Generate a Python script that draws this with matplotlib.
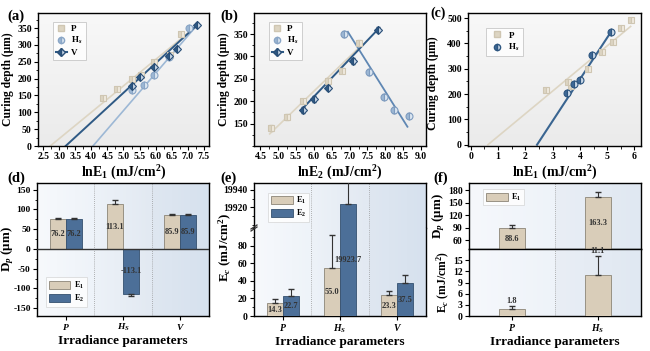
import numpy as np
import matplotlib
matplotlib.use("Agg")
import matplotlib.pyplot as plt
from matplotlib.ticker import MultipleLocator, AutoMinorLocator
from matplotlib.colors import LinearSegmentedColormap
from matplotlib.patches import Patch
from matplotlib.lines import Line2D

plt.rcParams['font.family'] = ['Liberation Serif', 'DejaVu Serif']
plt.rcParams['font.weight'] = 'bold'
plt.rcParams['axes.labelweight'] = 'bold'
plt.rcParams['mathtext.fontset'] = 'custom'
plt.rcParams['mathtext.rm'] = 'Liberation Serif:bold'
plt.rcParams['mathtext.bf'] = 'Liberation Serif:bold'
plt.rcParams['mathtext.it'] = 'Liberation Serif:italic:bold'
plt.rcParams['axes.linewidth'] = 1.0
plt.rcParams['axes.unicode_minus'] = False

# ---------------- data ----------------
# (a) curing depth vs lnE1
a_P_x = [4.35, 4.8, 5.25, 5.55, 5.95, 6.45, 6.8]
a_P_y = [142, 168, 200, 212, 248, 270, 332]
a_H_x = [5.25, 5.65, 5.95, 6.4, 7.05]
a_H_y = [167, 180, 210, 265, 350]
a_V_x = [5.25, 5.52, 5.95, 6.4, 6.65, 7.3]
a_V_y = [178, 205, 236, 268, 288, 360]
a_fit = {'P': (78.3, 2.72, 7.0), 'H': (110.8, 4.05, 7.3), 'V': (87.8, 3.2, 7.3)}  # slope, x-intercept, x-end

# (b) curing depth vs lnE2
b_P_x = [4.8, 5.25, 5.7, 6.4, 6.8, 7.25]
b_P_y = [140, 165, 200, 245, 268, 330]
b_H_x = [6.85, 7.55, 7.95, 8.25, 8.65]
b_H_y = [350, 265, 210, 180, 168]
b_V_x = [5.7, 6.0, 6.4, 7.1, 7.8]
b_V_y = [180, 205, 230, 290, 360]
b_lines = {'P': ((4.76, 127), (7.2, 315)), 'H': ((6.95, 355), (8.62, 143)), 'V': ((5.65, 181), (7.8, 361))}

# (c) curing depth vs lnE1
c_P_x = [2.76, 3.57, 3.67, 4.31, 4.8, 5.22, 5.52, 5.86]
c_P_y = [216, 249, 232, 298, 368, 407, 460, 491]
c_H_x = [3.51, 3.77, 4.01, 4.45, 5.13]
c_H_y = [205, 238, 255, 354, 444]
c_fit = {'P': (89.3, 0.63, 5.86), 'H': (164.4, 2.43, 5.13)}

# bar panels
cats3 = ['$\\mathit{P}$', '$\\mathit{H}_\\mathit{S}$', '$\\mathit{V}$']
cats2 = ['$\\mathit{P}$', '$\\mathit{H}_\\mathit{S}$']
d_E1 = [76.2, 113.1, 85.9]
d_E2 = [76.2, -113.1, 85.9]
d_E1_err = [3, 10, 2]
d_E2_err = [3, 5, 2]
e_E1 = [14.3, 55.0, 23.3]
e_E2 = [22.7, 19923.7, 37.5]
e_E1_err = [5, 37.5, 5]
e_E2_err = [8.5, 30, 9]
f_Dp = [88.6, 163.3]
f_Dp_err = [8, 14]
f_Ec = [1.8, 11.1]
f_Ec_err = [0.9, 5]

# ---------------- style ----------------
beige = '#d9cdb9'
beige_edge = '#8c8577'
blue = '#4c6f98'
blue_edge = '#34506f'
c_P = '#ddd5c3'
c_H = '#9db8d5'
c_V = '#2f5a85'
TK = 7          # tick label size
YL = 8.4        # y label size
XL = 10         # x label size (top)
IL = 9.6        # "Irradiance parameters"
BL = 6          # bar value labels

W, H = 650, 351
fig = plt.figure(figsize=(6.5, 3.51), dpi=100)

def ax_px(x0, y0, w, h):
    return fig.add_axes([x0 / W, 1 - (y0 + h) / H, w / W, h / H])

def style(ax, fs=TK):
    ax.tick_params(direction='out', length=3, width=0.8, labelsize=fs, pad=1.5)
    ax.tick_params(which='minor', direction='out', length=1.8, width=0.6)
    for lab in ax.get_xticklabels() + ax.get_yticklabels():
        lab.set_fontweight('bold')

def gray_bg(ax):
    cm = LinearSegmentedColormap.from_list('g', ['#f8f8f8', '#ebebeb'])
    ax.imshow(np.linspace(0, 1, 50).reshape(-1, 1), cmap=cm, aspect='auto',
              extent=[0, 1, 0, 1], transform=ax.transAxes, zorder=0, origin='upper')

def scatter(ax, x, y, marker, fc, ec, alt, ms=5):
    ax.errorbar(x, y, yerr=[6] * len(x), fmt='none', ecolor=ec, elinewidth=0.8, capsize=1.5, zorder=3)
    ax.plot(x, y, linestyle='none', marker=marker, ms=ms, mfc=fc, mec=ec, mew=0.8,
            fillstyle='left', markerfacecoloralt=alt, zorder=4)

def small_legend(ax, handles, labels, anchor, loc='upper left', hl=1.2):
    leg = ax.legend(handles, labels, loc=loc, bbox_to_anchor=anchor, fontsize=6.5,
                    frameon=True, handlelength=hl, handletextpad=0.5, labelspacing=0.25,
                    borderpad=0.35, fancybox=False)
    leg.get_frame().set_edgecolor('#bbbbbb'); leg.get_frame().set_linewidth(0.6)
    return leg

# ---------- (a) ----------
ax = ax_px(38, 13, 171, 133)
gray_bg(ax)
for key, col, lw in [('P', c_P, 1.2), ('H', c_H, 1.2), ('V', c_V, 1.4)]:
    s, x0, x1 = a_fit[key]
    xs = np.array([x0, x1])
    ax.plot(xs, s * (xs - x0), color=col, lw=lw, zorder=2)
scatter(ax, a_P_x, a_P_y, 's', c_P, '#cfc6b2', '#efe9de', 4.5)
scatter(ax, a_H_x, a_H_y, 'o', c_H, '#8aa6c6', '#dbe6f1')
scatter(ax, a_V_x, a_V_y, 'D', c_V, '#2a4f77', '#c9d7e6', 4.5)
ax.set_xlim(2.34, 7.66)
ax.set_ylim(0, 395)
ax.xaxis.set_major_locator(MultipleLocator(0.5))
ax.yaxis.set_major_locator(MultipleLocator(50))
ax.xaxis.set_minor_locator(AutoMinorLocator(2))
ax.yaxis.set_minor_locator(AutoMinorLocator(2))
ax.set_xlabel('lnE$_1$ (mJ/cm$^2$)', fontsize=XL, labelpad=2)
ax.set_ylabel('Curing depth (μm)', fontsize=YL, labelpad=2)
h = [Line2D([], [], ls='none', marker='s', ms=4, mfc=c_P, mec='#cfc6b2'),
     Line2D([], [], ls='none', marker='o', ms=4.5, mfc=c_H, mec='#8aa6c6', fillstyle='left', markerfacecoloralt='#dbe6f1'),
     Line2D([], [], ls='-', color=c_V, marker='D', ms=4, mfc=c_V, mec='#2a4f77', fillstyle='left', markerfacecoloralt='#c9d7e6')]
small_legend(ax, h, ['P', 'H$_s$', 'V'], (0.06, 0.97))
style(ax)
fig.text(7 / W, 1 - 20 / H, '(a)', fontsize=10.5, fontweight='bold')

# ---------- (b) ----------
ax = ax_px(254, 13, 172, 133)
gray_bg(ax)
for key, col, lw in [('P', c_P, 1.2), ('H', '#5f87b3', 1.3), ('V', c_V, 1.4)]:
    (x0, y0), (x1, y1) = b_lines[key]
    ax.plot([x0, x1], [y0, y1], color=col, lw=lw, zorder=2)
scatter(ax, b_P_x, b_P_y, 's', c_P, '#cfc6b2', '#efe9de', 4.5)
scatter(ax, b_H_x, b_H_y, 'o', c_H, '#7f9cbf', '#dbe6f1')
scatter(ax, b_V_x, b_V_y, 'D', c_V, '#2a4f77', '#c9d7e6', 4.5)
ax.set_xlim(4.32, 9.14)
ax.set_ylim(100, 397)
ax.xaxis.set_major_locator(MultipleLocator(0.5))
ax.xaxis.set_minor_locator(AutoMinorLocator(2))
ax.set_yticks([150, 200, 250, 300, 350])
ax.yaxis.set_minor_locator(MultipleLocator(25))
ax.set_xlabel('lnE$_2$ (mJ/cm$^2$)', fontsize=XL, labelpad=2)
ax.set_ylabel('Curing depth (μm)', fontsize=YL, labelpad=2)
small_legend(ax, h, ['P', 'H$_s$', 'V'], (0.06, 0.97))
style(ax)
fig.text(220 / W, 1 - 20 / H, '(b)', fontsize=10.5, fontweight='bold')

# ---------- (c) ----------
ax = ax_px(468, 13, 173, 133)
gray_bg(ax)
for key, col, lw in [('P', c_P, 1.2), ('H', '#3a6591', 1.5)]:
    s, x0, x1 = c_fit[key]
    xs = np.array([x0, x1])
    ax.plot(xs, s * (xs - x0), color=col, lw=lw, zorder=2)
scatter(ax, c_P_x, c_P_y, 's', c_P, '#cfc6b2', '#efe9de', 4.5)
scatter(ax, c_H_x, c_H_y, 'o', '#3f6a98', '#2e5680', '#c9d7e6', 5)
ax.set_xlim(-0.1, 6.24)
ax.set_ylim(-5, 520)
ax.xaxis.set_major_locator(MultipleLocator(1))
ax.yaxis.set_major_locator(MultipleLocator(100))
ax.xaxis.set_minor_locator(AutoMinorLocator(2))
ax.yaxis.set_minor_locator(AutoMinorLocator(2))
ax.set_xlabel('lnE$_1$ (mJ/cm$^2$)', fontsize=XL, labelpad=2)
ax.set_ylabel('Curing depth (μm)', fontsize=YL, labelpad=2)
ax.yaxis.set_label_coords(-0.17, 0.47)
hc = [Line2D([], [], ls='none', marker='s', ms=4, mfc=c_P, mec='#cfc6b2'),
      Line2D([], [], ls='none', marker='o', ms=4.5, mfc='#3f6a98', mec='#2e5680', fillstyle='left', markerfacecoloralt='#c9d7e6')]
small_legend(ax, hc, ['P', 'H$_s$'], (0.08, 0.92), hl=1.6)
style(ax)
fig.text(430 / W, 1 - 17 / H, '(c)', fontsize=10, fontweight='bold')

# ---------- helpers for bar panels ----------
region_cols = [('#f7f9fc', '#eef3f9'), ('#edf2f8', '#e2e9f2'), ('#dfe7f1', '#d6e1ee')]

def regions(ax, n, cols):
    y0, y1 = ax.get_ylim()
    for i in range(n):
        cm = LinearSegmentedColormap.from_list('r%d' % i, cols[i])
        ax.imshow(np.linspace(0, 1, 40).reshape(1, -1), cmap=cm, aspect='auto',
                  extent=[i - 0.5, i + 0.5, y0, y1], zorder=0)
        if i > 0:
            ax.axvline(i - 0.5, color='#9a9a9a', lw=0.6, ls=(0, (1, 1.5)), zorder=1)
    ax.set_xlim(-0.5, n - 0.5)
    ax.set_ylim(y0, y1)

bw = 0.28
hb = [Patch(facecolor=beige, edgecolor=beige_edge, lw=0.6), Patch(facecolor=blue, edgecolor=blue_edge, lw=0.6)]

# ---------- (d) ----------
ax = ax_px(37, 183, 172, 133)
ax.set_ylim(-170, 167)
regions(ax, 3, region_cols)
x = np.arange(3)
ax.bar(x - bw / 2, d_E1, bw, color=beige, edgecolor=beige_edge, lw=0.6, zorder=3)
ax.bar(x + bw / 2, d_E2, bw, color=blue, edgecolor=blue_edge, lw=0.6, zorder=3)
for i in range(3):
    ax.errorbar(x[i] - bw / 2, d_E1[i], yerr=[[0], [d_E1_err[i]]], fmt='none', ecolor='#333333', elinewidth=0.8, capsize=2, zorder=4)
    e2 = [[0], [d_E2_err[i]]] if d_E2[i] > 0 else [[d_E2_err[i]], [0]]
    ax.errorbar(x[i] + bw / 2, d_E2[i], yerr=e2, fmt='none', ecolor='#333333', elinewidth=0.8, capsize=2, zorder=4)
    ax.text(x[i] - bw / 2, d_E1[i] / 2, f'{d_E1[i]:.1f}', ha='center', va='center', fontsize=BL, color='#333333', zorder=5)
    ax.text(x[i] + bw / 2, d_E2[i] / 2, f'{d_E2[i]:.1f}', ha='center', va='center', fontsize=BL, color='#333333', zorder=5)
ax.axhline(0, color='#333333', lw=1.0, zorder=4)
ax.set_xticks(x)
ax.set_xticklabels(cats3)
ax.yaxis.set_major_locator(MultipleLocator(50))
ax.yaxis.set_minor_locator(AutoMinorLocator(2))
ax.set_ylabel('D$_p$ (μm)', fontsize=YL + 1, labelpad=1)
ax.yaxis.set_label_coords(-0.125, 0.5)
ax.set_xlabel('Irradiance parameters', fontsize=IL, labelpad=1)
leg = ax.legend(hb, ['E$_1$', 'E$_2$'], loc='lower left', bbox_to_anchor=(0.03, 0.04), fontsize=6,
                frameon=True, handlelength=2.6, handleheight=1.1, handletextpad=0.4, labelspacing=0.2,
                borderpad=0.3, fancybox=False)
leg.get_frame().set_edgecolor('#cccccc'); leg.get_frame().set_linewidth(0.5)
style(ax, fs=6.8)
fig.text(7 / W, 1 - 182 / H, '(d)', fontsize=10.5, fontweight='bold')

# ---------- (e) broken axis ----------
axt = ax_px(254, 183, 172, 45)
axb = ax_px(254, 228, 172, 88)
axt.set_ylim(19896, 19948)
axb.set_ylim(0, 100)
regions(axt, 3, region_cols)
regions(axb, 3, region_cols)
for a in (axt, axb):
    a.bar(x - bw / 2, e_E1, bw, color=beige, edgecolor=beige_edge, lw=0.6, zorder=3)
    a.bar(x + bw / 2, e_E2, bw, color=blue, edgecolor=blue_edge, lw=0.6, zorder=3)
    for i in range(3):
        a.errorbar(x[i] - bw / 2, e_E1[i], yerr=[[0], [e_E1_err[i]]], fmt='none', ecolor='#333333', elinewidth=0.8, capsize=2, zorder=4)
        a.errorbar(x[i] + bw / 2, e_E2[i], yerr=[[0], [e_E2_err[i]]], fmt='none', ecolor='#333333', elinewidth=0.8, capsize=2, zorder=4)
for i in range(3):
    for dx, v in ((-bw / 2, e_E1[i]), (bw / 2, e_E2[i])):
        yl = v / 2 if v < 100 else 64
        axb.text(x[i] + dx, yl, f'{v:.1f}', ha='center', va='center', fontsize=BL, color='#333333', zorder=5)
axt.spines['bottom'].set_visible(False)
axb.spines['top'].set_visible(False)
axt.tick_params(axis='x', which='both', bottom=False, labelbottom=False)
axt.set_yticks([19920, 19940])
axb.set_yticks([0, 20, 40, 60, 80])
axb.yaxis.set_minor_locator(AutoMinorLocator(2))
axt.yaxis.set_minor_locator(MultipleLocator(10))
axb.set_xticks(x)
axb.set_xticklabels(cats3)
for a in (axt, axb):
    style(a)
kw = dict(transform=fig.transFigure, color='#333333', lw=0.9, clip_on=False)
bx, by = 254 / W, 1 - 228 / H
fig.add_artist(Line2D([bx - 3 / W, bx + 3 / W], [by - 3 / H, by + 1 / H], **kw))
fig.add_artist(Line2D([bx - 3 / W, bx + 3 / W], [by - 1 / H, by + 3 / H], **kw))
fig.text(225 / W, 1 - 248 / H, 'E$_c$ (mJ/cm$^2$)', rotation=90, fontsize=YL + 1, ha='center', va='center', fontweight='bold')
axb.set_xlabel('Irradiance parameters', fontsize=IL, labelpad=1)
leg = axt.legend(hb, ['E$_1$', 'E$_2$'], loc='upper left', bbox_to_anchor=(0.06, 0.88), fontsize=6,
                 frameon=True, handlelength=2.6, handleheight=1.1, handletextpad=0.4, labelspacing=0.2,
                 borderpad=0.3, fancybox=False)
leg.get_frame().set_edgecolor('#cccccc'); leg.get_frame().set_linewidth(0.5)
fig.text(220 / W, 1 - 182 / H, '(e)', fontsize=10.5, fontweight='bold')

# ---------- (f) ----------
rc2 = [('#f6f8fc', '#eef3f9'), ('#e9eef5', '#e0e8f2')]
x2 = np.arange(2)
bw2 = 0.30
axt = ax_px(469, 183, 172, 66)
axb = ax_px(469, 249, 172, 67)
axt.set_ylim(39, 198)
axb.set_ylim(0, 18)
regions(axt, 2, rc2)
regions(axb, 2, rc2)
axt.bar(x2, f_Dp, bw2, color=beige, edgecolor=beige_edge, lw=0.6, zorder=3)
axt.errorbar(x2, f_Dp, yerr=[[0, 0], f_Dp_err], fmt='none', ecolor='#333333', elinewidth=0.8, capsize=2, zorder=4)
for i in range(2):
    axt.text(x2[i], (39 + f_Dp[i]) / 2, f'{f_Dp[i]:.1f}', ha='center', va='center', fontsize=BL, color='#333333', zorder=5)
axb.bar(x2, f_Ec, bw2, color=beige, edgecolor=beige_edge, lw=0.6, zorder=3)
axb.errorbar(x2, f_Ec, yerr=[[0, 0], f_Ec_err], fmt='none', ecolor='#333333', elinewidth=0.8, capsize=2, zorder=4)
for i in range(2):
    axb.text(x2[i], f_Ec[i] + f_Ec_err[i] + 0.3, f'{f_Ec[i]:.1f}', ha='center', va='bottom', fontsize=BL,
             color='#333333', zorder=6, clip_on=False)
axt.tick_params(axis='x', which='both', bottom=False, labelbottom=False)
axt.set_yticks([60, 90, 120, 150, 180])
axb.set_yticks([0, 3, 6, 9, 12, 15])
axb.set_xticks(x2)
axb.set_xticklabels(cats2)
axt.set_ylabel('D$_p$ (μm)', fontsize=YL + 1, labelpad=1)
axb.set_ylabel('E$_c$ (mJ/cm$^2$)', fontsize=YL, labelpad=1)
axb.set_xlabel('Irradiance parameters', fontsize=IL, labelpad=1)
for a in (axt, axb):
    style(a)
leg = axt.legend(hb[:1], ['E$_1$'], loc='upper left', bbox_to_anchor=(0.06, 0.97), fontsize=6,
                 frameon=True, handlelength=2.6, handleheight=1.1, handletextpad=0.4, borderpad=0.3, fancybox=False)
leg.get_frame().set_edgecolor('#cccccc'); leg.get_frame().set_linewidth(0.5)
fig.text(433 / W, 1 - 182 / H, '(f)', fontsize=10.5, fontweight='bold')

fig.savefig('out.png', dpi=100, facecolor='white')
